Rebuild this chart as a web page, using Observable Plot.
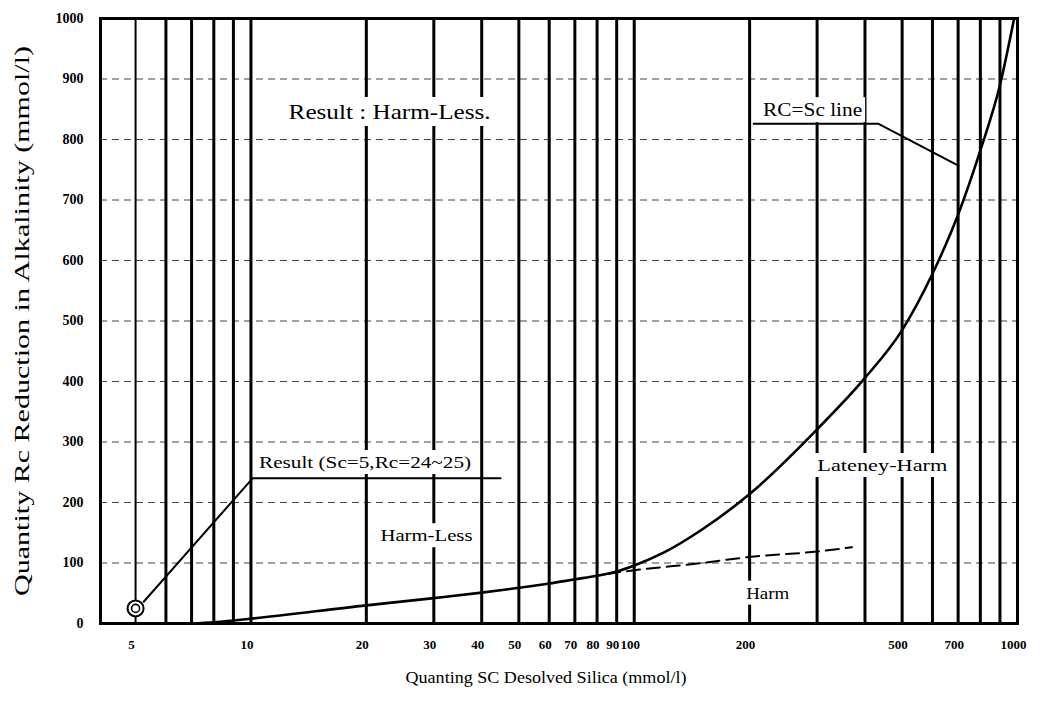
<!DOCTYPE html>
<html>
<head>
<meta charset="utf-8">
<script src="https://cdn.jsdelivr.net/npm/d3@7"></script>
<script src="https://cdn.jsdelivr.net/npm/@observablehq/plot@0.6"></script>
<style>
  html, body { margin: 0; padding: 0; background: #fff; }
  #chart svg { display: block; }
</style>
</head>
<body>
<div id="chart"></div>
<script>
// ---------- data ----------
const xTickValues = [5, 10, 20, 30, 40, 50, 60, 70, 80, 90, 100, 200, 500, 700, 1000];
const yTickValues = [0, 100, 200, 300, 400, 500, 600, 700, 800, 900, 1000];
const thinVerticals = [5];
const thickVerticals = [6, 7, 8, 9, 10, 20, 30, 40, 50, 60, 70, 80, 90, 100, 200, 300, 400, 500, 600, 700, 800, 900, 1000];
const gridRc = [100, 200, 300, 400, 500, 600, 700, 800, 900];

// RC = Sc line (solid curve)
const curveSc = [7, 8, 9, 10, 20, 30, 40, 50, 60, 70, 80, 90, 100, 120, 150, 200, 300, 400, 500, 600, 700, 800, 900, 980];
const curveRc = [0, 2, 5, 8, 30, 42, 51, 59, 66, 73, 79, 86, 96, 118, 155, 214, 321, 406, 485, 578, 676, 782, 890, 1000];

// Harm / Lateney-Harm boundary (dashed)
const dashSc = [85, 100, 150, 200, 300, 370];
const dashRc = [82, 88, 100, 110, 119, 126];

// measured result
const resultSc = [5];
const resultRc = [25];

// leader lines of the annotations
const resultLeaderSc = [5.25, 10.1, 44.8];
const resultLeaderRc = [36, 240, 240];
const rcLeaderSc = [205, 434, 701];
const rcLeaderRc = [826, 826, 757];

// annotation texts
const noteText = ["Result : Harm-Less.", "RC=Sc line", "Result (Sc=5,Rc=24~25)", "Harm-Less", "Lateney-Harm", "Harm"];
const noteSc = [23.0, 292, 10.5, 28.7, 444, 223];
const noteRc = [845, 848, 266, 145, 261, 50];

const xTitle = "Quanting SC Desolved Silica (mmol/l)";
const yTitle = "Quantity Rc Reduction in Alkalinity (mmol/l)";

// ---------- styling (not data) ----------
const noteAnchor = ["middle", "middle", "start", "middle", "middle", "middle"];
const noteSize = [21, 18, 17, 17, 17, 17];
const textLengths = {
  "Result : Harm-Less.": 202,
  "RC=Sc line": 99,
  "Result (Sc=5,Rc=24~25)": 212,
  "Harm-Less": 92,
  "Lateney-Harm": 130,
  "Harm": 43,
  [xTitle]: 281,
  [yTitle]: 550
};

const curve = curveSc.map((d, i) => ({sc: d, rc: curveRc[i]}));
const dash = dashSc.map((d, i) => ({sc: d, rc: dashRc[i]}));
const resultPt = resultSc.map((d, i) => ({sc: d, rc: resultRc[i]}));
const resultLeader = resultLeaderSc.map((d, i) => ({sc: d, rc: resultLeaderRc[i]}));
const rcLeader = rcLeaderSc.map((d, i) => ({sc: d, rc: rcLeaderRc[i]}));
const notes = noteText.map((t, i) => ({text: t, sc: noteSc[i], rc: noteRc[i], anchor: noteAnchor[i], size: noteSize[i]}));

const serif = "'Liberation Serif', 'Times New Roman', serif";

const plot = Plot.plot({
  width: 1041,
  height: 704,
  marginTop: 18,
  marginBottom: 81,
  marginLeft: 100,
  marginRight: 24,
  style: {fontFamily: serif, fontSize: "14px", color: "#000", background: "#fff"},
  x: {type: "log", domain: [4.05, 1000], axis: null},
  y: {domain: [0, 1000], axis: null},
  marks: [
    Plot.ruleY(gridRc, {stroke: "#222", strokeWidth: 1, strokeDasharray: "7,5", strokeOpacity: 0.85}),
    Plot.ruleX(thinVerticals, {stroke: "#000", strokeWidth: 2}),
    Plot.ruleX(thickVerticals, {stroke: "#000", strokeWidth: 3}),
    Plot.frame({stroke: "#000", strokeWidth: 3}),
    Plot.ruleY([0], {stroke: "#000", strokeWidth: 3}),
    Plot.line(curve, {x: "sc", y: "rc", stroke: "#000", strokeWidth: 2.6, curve: "monotone-x"}),
    Plot.line(dash, {x: "sc", y: "rc", stroke: "#000", strokeWidth: 2, strokeDasharray: "13,7", curve: "monotone-x"}),
    ...notes.map(n => Plot.text([n], {
      x: "sc", y: "rc", text: "text", textAnchor: n.anchor, lineAnchor: "middle", fontSize: n.size,
      fill: "#000", className: "note"
    })),
    Plot.line(resultLeader, {x: "sc", y: "rc", stroke: "#000", strokeWidth: 2}),
    Plot.line(rcLeader, {x: "sc", y: "rc", stroke: "#000", strokeWidth: 2}),
    Plot.dot(resultPt, {x: "sc", y: "rc", r: 8, stroke: "#000", strokeWidth: 2, fill: "#fff"}),
    Plot.dot(resultPt, {x: "sc", y: "rc", r: 4, stroke: "#000", strokeWidth: 1.6, fill: "none"}),
    // tick labels
    Plot.text(xTickValues, {x: d => d, text: d => String(d), frameAnchor: "bottom", dy: 21, dx: -4,
      lineAnchor: "middle", textAnchor: "middle", fontSize: 13, fontWeight: "bold"}),
    Plot.text(yTickValues, {y: d => d, text: d => String(d), frameAnchor: "left", dx: -17,
      lineAnchor: "middle", textAnchor: "end", fontSize: 14, fontWeight: "bold"}),
    // axis titles
    Plot.text([xTitle], {frameAnchor: "bottom", dy: 54, dx: -13, textAnchor: "middle", lineAnchor: "middle", fontSize: 17}),
    Plot.text([yTitle], {frameAnchor: "left", dx: -78, rotate: -90, textAnchor: "middle", lineAnchor: "middle", fontSize: 20})
  ]
});

document.getElementById("chart").appendChild(plot);

const svg = d3.select(plot.tagName === "svg" ? plot : plot.querySelector("svg"));
svg.selectAll("text").each(function() {
  const t = this.textContent;
  if (textLengths[t] !== undefined) {
    this.setAttribute("textLength", textLengths[t]);
    this.setAttribute("lengthAdjust", "spacingAndGlyphs");
  }
});

// white boxes behind the annotation labels (they interrupt the grid, as in the original)
svg.selectAll("g.note text").each(function() {
  const b = this.getBBox();
  const r = document.createElementNS("http://www.w3.org/2000/svg", "rect");
  r.setAttribute("x", b.x - 3);
  r.setAttribute("y", b.y - 3);
  r.setAttribute("width", b.width + 6);
  r.setAttribute("height", b.height + 5);
  r.setAttribute("fill", "#fff");
  r.setAttribute("stroke", "none");
  const tr = this.getAttribute("transform");
  if (tr) r.setAttribute("transform", tr);
  this.parentNode.insertBefore(r, this);
});
</script>
</body>
</html>
